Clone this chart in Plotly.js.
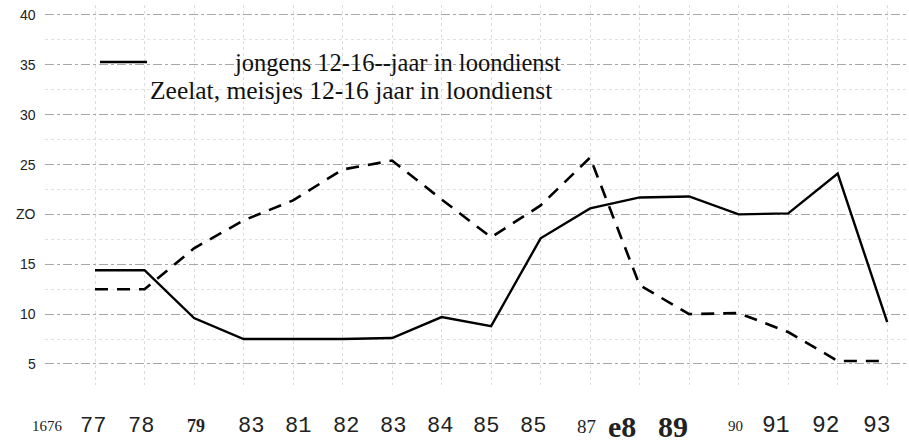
<!DOCTYPE html>
<html>
<head>
<meta charset="utf-8">
<script src="https://cdn.plot.ly/plotly-3.0.1.min.js"></script>
<style>html,body{margin:0;padding:0;background:#fff;}#chart{width:909px;height:443px;}</style>
</head>
<body>
<div id="chart"></div>
<script>
// Data
const years = [1977,1978,1979,1980,1981,1982,1983,1984,1985,1986,1987,1988,1989,1990,1991,1992,1993];
const jongens = [14.4,14.4,9.6,7.5,7.5,7.5,7.6,9.7,8.8,17.6,20.6,21.7,21.8,20.0,20.1,24.1,9.2];
const meisjes = [12.5,12.5,16.6,19.4,21.4,24.5,25.4,21.5,17.7,20.9,25.7,12.9,10.0,10.1,8.2,5.3,5.3];

// Tick labels as printed (scanned text)
const xTickLabels = ["1676","77","78","79","83","81","82","83","84","85","85","87","e8","89","90","91","92","93"];
const yTickVals = [40,35,30,25,20,15,10,5];
const yTickLabels = ["40","35","30","25","ZO","15","10","5"];
const legendLabels = ["jongens 12-16--jaar in loondienst","Zeelat, meisjes 12-16 jaar in loondienst"];

// Layout helpers (positions / styles, not data)
const W = 909, H = 443;
const SERIF = "Liberation Serif, Times New Roman, Times, serif";
const MONO = "Liberation Mono, DejaVu Sans Mono, monospace";
const SANS = "Liberation Sans, Arial, sans-serif";
const xLabelPx = [47,93,141,196,251,298,346,393,440,486,533,586,622,673,735,776,826,877];
const xLabelFont = [
  {family:SERIF, size:15},
  {family:MONO, size:22},
  {family:MONO, size:22},
  {family:SERIF, size:18, weight:"bold"},
  {family:MONO, size:22},
  {family:MONO, size:22},
  {family:MONO, size:22},
  {family:MONO, size:22},
  {family:MONO, size:22},
  {family:MONO, size:22},
  {family:MONO, size:22},
  {family:SERIF, size:19},
  {family:SERIF, size:30, weight:"bold"},
  {family:SERIF, size:30, weight:"bold"},
  {family:SERIF, size:15},
  {family:MONO, size:23},
  {family:MONO, size:23},
  {family:MONO, size:23}
];

const annotations = [];
xTickLabels.forEach((t,i)=>{
  annotations.push({
    text: t, xref:"paper", yref:"paper",
    x: xLabelPx[i]/W, y: 0, yshift: -(426-385),
    xanchor:"center", yanchor:"middle", showarrow:false,
    font: Object.assign({color:"#222"}, xLabelFont[i])
  });
});
yTickVals.forEach((v,i)=>{
  annotations.push({
    text: yTickLabels[i], xref:"paper", yref:"y",
    x: 38/W, y: v, xanchor:"right", yanchor:"middle", showarrow:false,
    font:{family:SANS, size:14, color:"#222"}
  });
});
annotations.push({
  text: legendLabels[0], xref:"paper", yref:"paper",
  x: 232/W, y: 1 - (62-5)/380, xanchor:"left", yanchor:"middle", showarrow:false,
  font:{family:SERIF, size:24.5, color:"#111"}
});
annotations.push({
  text: legendLabels[1], xref:"paper", yref:"paper",
  x: 148/W, y: 1 - (90-5)/380, xanchor:"left", yanchor:"middle", showarrow:false,
  font:{family:SERIF, size:25.5, color:"#111"}
});

const traces = [
  {x: years, y: jongens, type:"scatter", mode:"lines", name: legendLabels[0],
   line:{color:"#000", width:2.4}},
  {x: years, y: meisjes, type:"scatter", mode:"lines", name: legendLabels[1],
   line:{color:"#000", width:2.6, dash:"13px,9px"}}
];

const layout = {
  width: W, height: H,
  margin:{l:0, r:0, t:5, b:58},
  paper_bgcolor:"#fff", plot_bgcolor:"#fff",
  showlegend:false,
  font:{family:SERIF},
  xaxis:{domain:[45/W,1], range:[1975.99,1993.44], showticklabels:false, ticks:"",
         showgrid:true, gridcolor:"#dcdcdc", griddash:"dot", gridwidth:1, dtick:1, tick0:1977,
         zeroline:false, showline:false},
  yaxis:{range:[2.89,41.0], showticklabels:false, ticks:"",
         showgrid:true, gridcolor:"#a8a8a8", griddash:"dashdot", gridwidth:1, dtick:5, tick0:0,
         minor:{dtick:2.5, showgrid:true, gridcolor:"#e0e0e0", griddash:"dot", gridwidth:1},
         zeroline:false, showline:false},
  annotations: annotations,
  shapes:[{type:"line", xref:"paper", yref:"paper",
           x0:100/W, x1:147/W, y0:1-(62-5)/380, y1:1-(62-5)/380,
           line:{color:"#000", width:2.5}}]
};

Plotly.newPlot("chart", traces, layout, {displayModeBar:false, staticPlot:true});
</script>
</body>
</html>
